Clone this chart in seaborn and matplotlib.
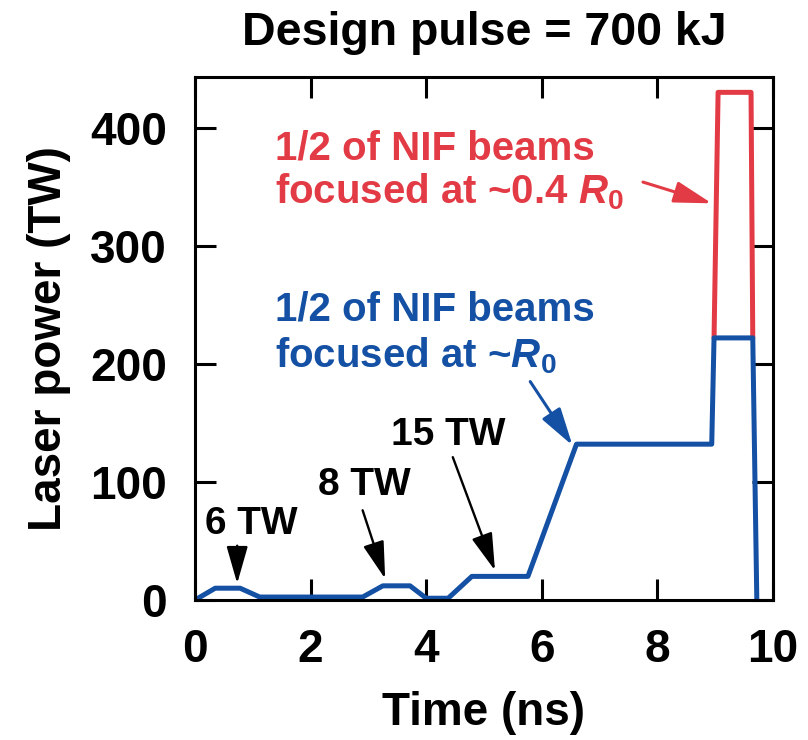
import matplotlib
matplotlib.use('Agg')
import matplotlib.pyplot as plt
import seaborn as sns

# pulse shape (ns, TW)
blue_t = [0.0, 0.35, 0.78, 1.12, 2.9, 3.25, 3.72, 4.0, 4.38, 4.79, 5.76, 6.6, 8.94, 8.98, 9.65, 9.72]
blue_p = [0, 10, 10, 2.5, 2.5, 12, 12, 1.5, 1.5, 20, 20, 132, 132, 222, 222, 0]
red_t = [8.98, 9.05, 9.62, 9.65]
red_p = [222, 430, 430, 222]

# small labels and where their arrows point
tw_labels = ['6 TW', '8 TW', '15 TW']
tw_text_xy = [(0.97, 64), (2.93, 97), (4.38, 140)]
tw_arrow_from = [(0.73, 46), (2.90, 76), (4.46, 121)]
tw_arrow_to = [(0.73, 14), (3.29, 18), (5.19, 25)]

blue = '#1450A3'
red = '#E33B45'

sns.set_theme(style='ticks')
plt.rcParams['font.family'] = ['Liberation Sans', 'DejaVu Sans']
plt.rcParams['font.weight'] = 'bold'
plt.rcParams['mathtext.fontset'] = 'custom'
plt.rcParams['mathtext.it'] = 'Liberation Sans:bold:italic'
plt.rcParams['mathtext.rm'] = 'Liberation Sans:bold'
for k in ['text.color', 'axes.labelcolor', 'xtick.color', 'ytick.color', 'axes.edgecolor']:
    plt.rcParams[k] = 'black'

fig = plt.figure(figsize=(8.08, 7.4), dpi=100)
ax = fig.add_axes([195 / 808, 1 - 600 / 740, 578 / 808, 523 / 740])

sns.lineplot(x=red_t, y=red_p, sort=False, estimator=None, color=red, lw=3.6, ax=ax)
sns.lineplot(x=blue_t, y=blue_p, sort=False, estimator=None, color=blue, lw=3.6, ax=ax)

ax.set_xlim(0, 10)
ax.set_ylim(0, 443)
ax.set_xticks([0, 2, 4, 6, 8, 10])
ax.set_yticks([0, 100, 200, 300, 400])
ax.tick_params(direction='in', length=15, width=2.2, labelsize=33, top=True, right=True, pad=20)
for s in ax.spines.values():
    s.set_linewidth(2.2)
for lab in ax.get_xticklabels() + ax.get_yticklabels():
    lab.set_fontweight('bold')

ax.set_xlabel('Time (ns)', fontsize=33, fontweight='bold', labelpad=14)
ax.set_ylabel('Laser power (TW)', fontsize=33, fontweight='bold', labelpad=14)
ax.set_title('Design pulse = 700 kJ', fontsize=33.5, fontweight='bold', pad=23)

# beam notes
ax.text(1.38, 373, '1/2 of NIF beams', color=red, fontsize=29, va='baseline')
ax.text(1.38, 336, 'focused at ~0.4 $R_0$', color=red, fontsize=29, va='baseline')
ax.text(1.38, 237, '1/2 of NIF beams', color=blue, fontsize=29, va='baseline')
ax.text(1.38, 197, 'focused at ~$R_0$', color=blue, fontsize=29, va='baseline')

big_head = '-|>,head_length=1.05,head_width=0.3'
ax.annotate('', xy=(8.94, 336), xytext=(7.75, 354),
            arrowprops=dict(arrowstyle=big_head, color=red, lw=2.2, mutation_scale=22,
                            shrinkA=0, shrinkB=0))
ax.annotate('', xy=(6.53, 131), xytext=(5.80, 185),
            arrowprops=dict(arrowstyle=big_head, color=blue, lw=2.2, mutation_scale=22,
                            shrinkA=0, shrinkB=0))

for lab, txy, a0, a1 in zip(tw_labels, tw_text_xy, tw_arrow_from, tw_arrow_to):
    ax.text(txy[0], txy[1], lab, fontsize=28, ha='center', va='center')
    ax.annotate('', xy=a1, xytext=a0,
                arrowprops=dict(arrowstyle=big_head, color='black', lw=1.7, mutation_scale=22,
                                shrinkA=0, shrinkB=0))

fig.savefig('out.png', dpi=100)
